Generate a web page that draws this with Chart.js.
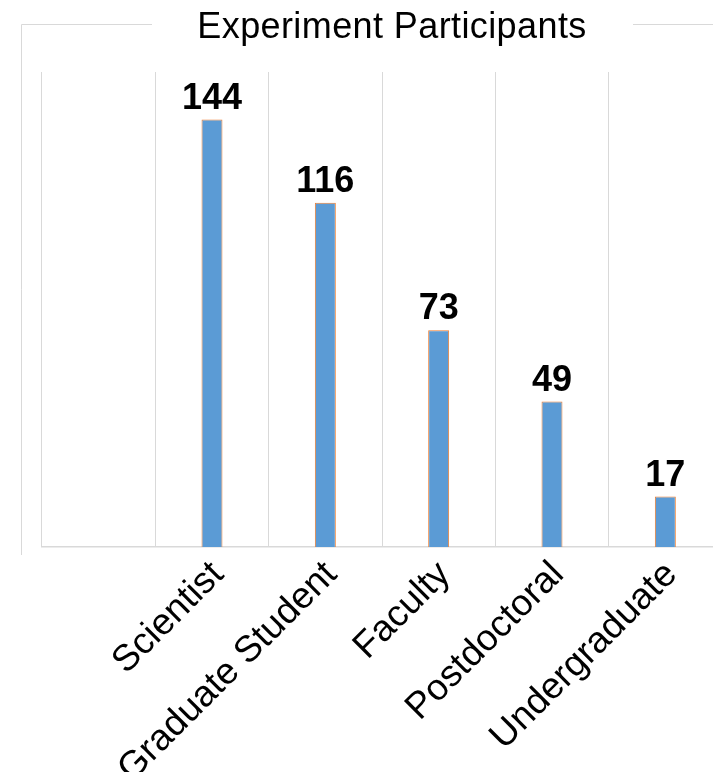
<!DOCTYPE html>
<html>
<head>
<meta charset="utf-8">
<script src="https://cdn.jsdelivr.net/npm/chart.js@4/dist/chart.umd.min.js"></script>
<style>
  html, body { margin: 0; padding: 0; background: #fff; overflow: hidden; }
  #wrap { width: 713px; height: 772px; overflow: hidden; position: relative; }
  canvas { position: absolute; left: 0; top: 0; }
</style>
</head>
<body>
<div id="wrap"><canvas id="chart" width="740" height="772"></canvas></div>
<script>
const chartTitle = 'Experiment Participants';
const categories = ['', 'Scientist', 'Graduate Student', 'Faculty', 'Postdoctoral', 'Undergraduate'];
const participants = [null, 144, 116, 73, 49, 17];
const yMax = 160;

const FONT = '"Liberation Sans", Arial, sans-serif';
const gridGray = '#d9d9d9';

// frame around the chart, broken where the title sits, plus the title itself
const frameAndTitle = {
    id: 'frameAndTitle',
    beforeDraw(chart) {
        const ctx = chart.ctx;
        ctx.save();
        ctx.strokeStyle = gridGray;
        ctx.lineWidth = 1;
        ctx.beginPath();
        ctx.moveTo(21.5, 555);
        ctx.lineTo(21.5, 24.5);
        ctx.lineTo(152, 24.5);
        ctx.moveTo(633, 24.5);
        ctx.lineTo(chart.width, 24.5);
        ctx.stroke();

        ctx.fillStyle = '#000';
        ctx.font = '36px ' + FONT;
        ctx.letterSpacing = '0.4px';
        ctx.textAlign = 'center';
        ctx.textBaseline = 'alphabetic';
        ctx.fillText(chartTitle, 392, 38);
        ctx.restore();
    }
};

// value labels above each bar
const valueLabels = {
    id: 'valueLabels',
    afterDatasetsDraw(chart) {
        const ctx = chart.ctx;
        const meta = chart.getDatasetMeta(0);
        ctx.save();
        ctx.fillStyle = '#000';
        ctx.font = 'bold 36px ' + FONT;
        ctx.textAlign = 'center';
        ctx.textBaseline = 'alphabetic';
        meta.data.forEach((bar, i) => {
            const v = participants[i];
            if (v == null) return;
            ctx.fillText(String(v), bar.x, bar.y - 11);
        });
        ctx.restore();
    }
};

new Chart(document.getElementById('chart').getContext('2d'), {
    type: 'bar',
    data: {
        labels: categories,
        datasets: [{
            data: participants,
            backgroundColor: '#5b9bd5',
            borderColor: '#ed7d31',
            borderWidth: 1,
            categoryPercentage: 1,
            barPercentage: 0.185
        }]
    },
    options: {
        responsive: false,
        animation: false,
        layout: { padding: { left: 42, top: 72, right: 18, bottom: 0 } },
        plugins: {
            legend: { display: false },
            tooltip: { enabled: false },
            title: { display: false }
        },
        scales: {
            x: {
                grid: { color: gridGray, drawTicks: false, offset: true },
                border: { color: gridGray, width: 1.5 },
                ticks: {
                    color: '#000',
                    font: { family: FONT, size: 37 },
                    minRotation: 45,
                    maxRotation: 45,
                    autoSkip: false,
                    padding: 6,
                    labelOffset: 6
                },
                afterFit(scale) { scale.height = 225; }
            },
            y: {
                display: false,
                min: 0,
                max: yMax
            }
        }
    },
    plugins: [frameAndTitle, valueLabels]
});
</script>
</body>
</html>
